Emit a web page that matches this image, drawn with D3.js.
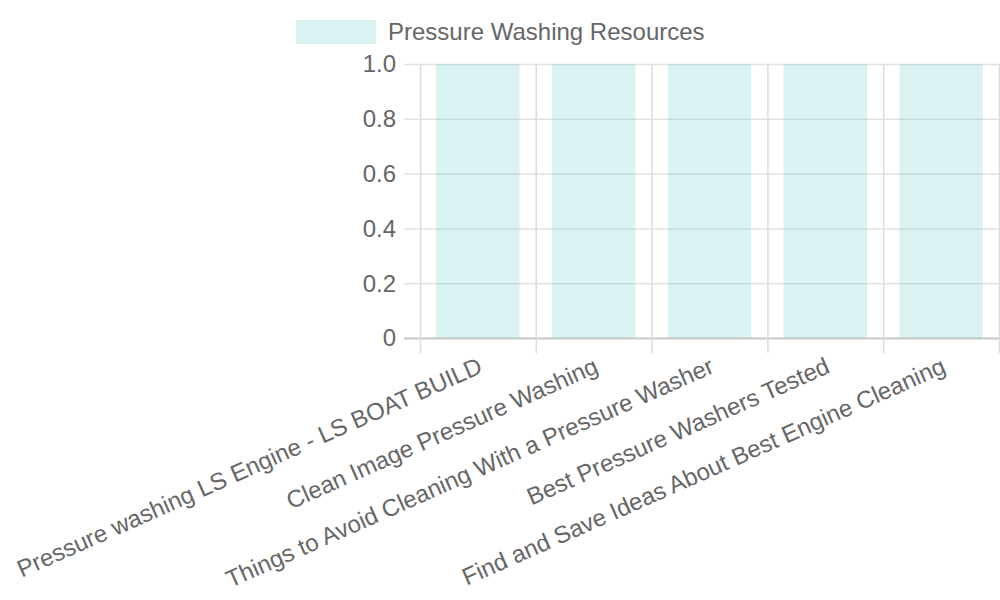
<!DOCTYPE html>
<html>
<head>
<meta charset="utf-8">
<script src="https://cdn.jsdelivr.net/npm/d3@7"></script>
<style>
  body { margin: 0; background: #fff; }
  svg text { font-family: "Liberation Sans", Arial, sans-serif; fill: #666; }
</style>
</head>
<body>
<div id="chart"></div>
<script>
var width = 1000;
var height = 600;

// data
const categories = [
  "Pressure washing LS Engine - LS BOAT BUILD",
  "Clean Image Pressure Washing",
  "Things to Avoid Cleaning With a Pressure Washer",
  "Best Pressure Washers Tested",
  "Find and Save Ideas About Best Engine Cleaning"
];
const values = [1, 1, 1, 1, 1];
const yTicks = [0, 0.2, 0.4, 0.6, 0.8, 1.0];
const seriesName = "Pressure Washing Resources";

var plotLeft = 420, plotRight = 999, plotTop = 64, plotBottom = 338;

const x = d3.scaleBand().domain(categories).range([plotLeft, plotRight]);
const y = d3.scaleLinear().domain([0, 1]).range([plotBottom, plotTop]);

const svg = d3.select("#chart")
    .append("svg")
    .attr("width", width)
    .attr("height", height);

// horizontal grid
svg.append("g")
    .selectAll("line")
    .data(yTicks)
    .join("line")
    .attr("x1", plotLeft - 16)
    .attr("x2", plotRight)
    .attr("y1", d => y(d) + 0.5)
    .attr("y2", d => y(d) + 0.5)
    .attr("stroke", d => d === 0 ? "#c8c8c8" : "#e2e2e2")
    .attr("stroke-width", d => d === 0 ? 2 : 1.5);

// vertical grid
const edges = categories.map(c => x(c)).concat([plotRight]);
svg.append("g")
    .selectAll("line")
    .data(edges)
    .join("line")
    .attr("x1", d => d + 0.5)
    .attr("x2", d => d + 0.5)
    .attr("y1", plotTop)
    .attr("y2", plotBottom + 15)
    .attr("stroke", "#dcdcdc")
    .attr("stroke-width", 1.5);

// bars
var barW = x.bandwidth() * 0.72;
svg.append("g")
    .selectAll("rect")
    .data(values)
    .join("rect")
    .attr("x", (d, i) => x(categories[i]) + (x.bandwidth() - barW) / 2)
    .attr("width", barW)
    .attr("y", d => y(d))
    .attr("height", d => y(0) - y(d))
    .attr("fill", "rgba(75,192,192,0.2)");

// y tick labels
svg.append("g")
    .selectAll("text")
    .data(yTicks)
    .join("text")
    .attr("x", plotLeft - 24)
    .attr("y", d => y(d))
    .attr("dy", "0.35em")
    .attr("text-anchor", "end")
    .attr("font-size", 24)
    .text(d => d === 0 ? "0" : d.toFixed(1));

// x tick labels, rotated
svg.append("g")
    .selectAll("text")
    .data(categories)
    .join("text")
    .attr("text-anchor", "end")
    .attr("font-size", 24)
    .attr("transform", d => "translate(" + (x(d) + x.bandwidth() / 2 + 6) + "," + (plotBottom + 34) + ") rotate(-24)")
    .text(d => d);

// legend
svg.append("rect")
    .attr("x", 296)
    .attr("y", 20)
    .attr("width", 80)
    .attr("height", 24)
    .attr("fill", "rgba(75,192,192,0.2)");
svg.append("text")
    .attr("x", 388)
    .attr("y", 32)
    .attr("dy", "0.35em")
    .attr("font-size", 24)
    .text(seriesName);
</script>
</body>
</html>
